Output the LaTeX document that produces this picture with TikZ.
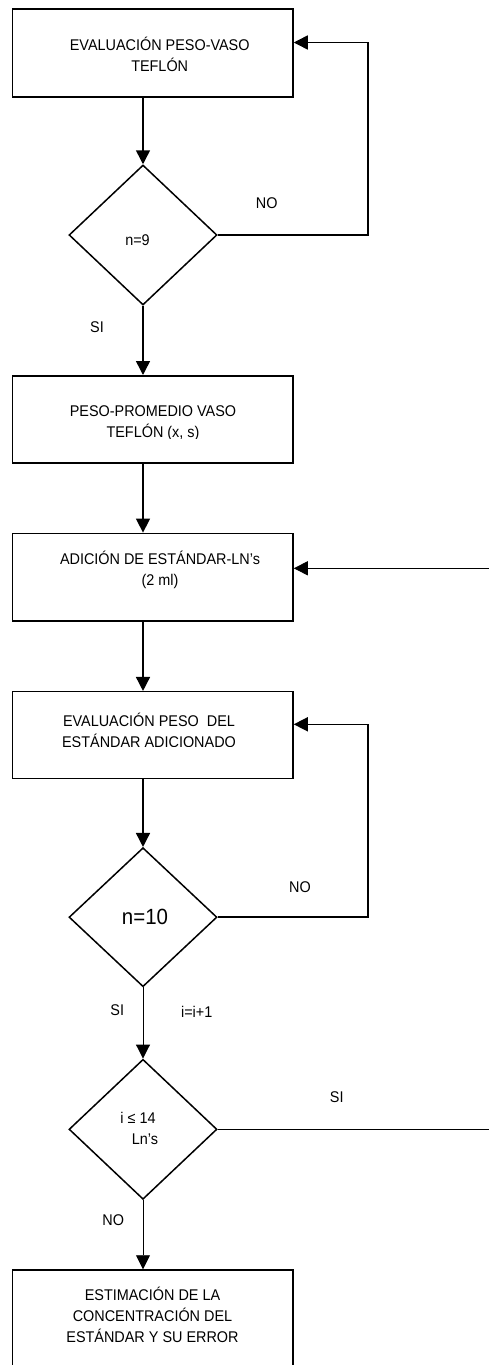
\documentclass[tikz,border=0pt]{standalone}
\usepackage{fontspec}
\setmainfont{Liberation Sans}[FakeStretch=0.93]
\usetikzlibrary{arrows.meta,shapes.geometric}

\begin{document}
\begin{tikzpicture}[x=1pt,y=-1pt,
  box/.style={draw,line width=1.5pt,rectangle,minimum width=280.5pt,inner sep=0pt},
  test/.style={draw,line width=1.5pt,diamond,minimum width=148pt,minimum height=140pt,inner sep=0pt,aspect=1.06},
  txt/.style={font=\fontsize{15.5}{21}\selectfont,align=center,inner sep=0pt},
  lbl/.style={font=\fontsize{15.5}{18}\selectfont,inner sep=0pt},
  flow/.style={line width=1.5pt,-{Triangle[length=14pt,width=14pt]}},
  thinflow/.style={line width=0.9pt,-{Triangle[length=14pt,width=14pt]}},
  plain/.style={line width=1.5pt}]
\useasboundingbox (0,0) rectangle (489,1365);

% process boxes and decisions
\node[box,minimum height=88pt] (b1) at (152.75,53) {};
\node[test] (d1) at (143,235) {};
\node[box,minimum height=87.3pt] (b2) at (152.75,419.4) {};
\node[box,minimum height=87.7pt] (b3) at (152.75,577.2) {};
\node[box,minimum height=87pt] (b4) at (152.75,735.2) {};
\node[test,minimum height=139pt] (d2) at (143,917.2) {};
\node[test] (d3) at (143,1129.3) {};
\node[box,minimum height=110pt] (b5) at (152.75,1325) {};

% box and decision texts
\node[txt] (t1) at (159.7,54.5) {EVALUACIÓN PESO-VASO\\TEFLÓN};
\begin{scope}
  \clip (0,380) rectangle (489,438.3);
  \node[txt] (t2) at (153,423.5) {PESO-PROMEDIO VASO\\TEFLÓN (x, s)};
\end{scope}
\node[txt] (t3) at (160,570) {ADICIÓN DE ESTÁNDAR-LN's\\(2 ml)};
\begin{scope}
  \clip (0,700) rectangle (489,746);
  \node[txt] (t4) at (149,730.5) {EVALUACIÓN PESO\ \ DEL\\ESTÁNDAR ADICIONADO};
\end{scope}
\node[txt] (t5) at (152.5,1315) {ESTIMACIÓN DE LA\\CONCENTRACIÓN DEL\\ESTÁNDAR Y SU ERROR};
\node[txt] (q1) at (137.5,240) {n=9};
\node[txt,font=\fontsize{22}{26}\selectfont] (q2) at (145,917) {n=10};
\node[txt] (q3a) at (138,1118) {i ≤ 14};
\node[txt] (q3b) at (145,1139.5) {Ln’s};

% branch labels
\node[lbl] (no1) at (266.7,203) {NO};
\node[lbl] (si1) at (97,327) {SI};
\node[lbl] (no2) at (300,887) {NO};
\node[lbl] (si2) at (117.3,1010) {SI};
\node[lbl] (inc) at (196.7,1012) {i=i+1};
\node[lbl] (si3) at (336.7,1097) {SI};
\node[lbl] (no3) at (113.3,1220) {NO};

% loop corners
\coordinate (r1) at (368,42.5);
\coordinate (r2) at (368,724.3);
\coordinate (r3) at (492,568.3);

% connectors
\draw[flow] (d1.north |- b1.south) -- (d1.north);
\draw[flow] (d1.east) -| (r1) -- (b1.east |- r1);
\draw[flow] (d1.south) -- (d1.south |- b2.north);
\draw[flow] (d1.south |- b2.south) -- (d1.south |- b3.north);
\draw[flow] (d1.south |- b3.south) -- (d1.south |- b4.north);
\draw[flow] (d2.north |- b4.south) -- (d2.north);
\draw[flow] (d2.east) -| (r2) -- (b4.east |- r2);
\draw[thinflow] (d2.south) -- (d3.north);
\draw[thinflow] (d3.south) -- (d3.south |- b5.north);
\draw[thinflow] (d3.east) -| (r3) -- (b3.east |- r3);
\end{tikzpicture}
\end{document}
